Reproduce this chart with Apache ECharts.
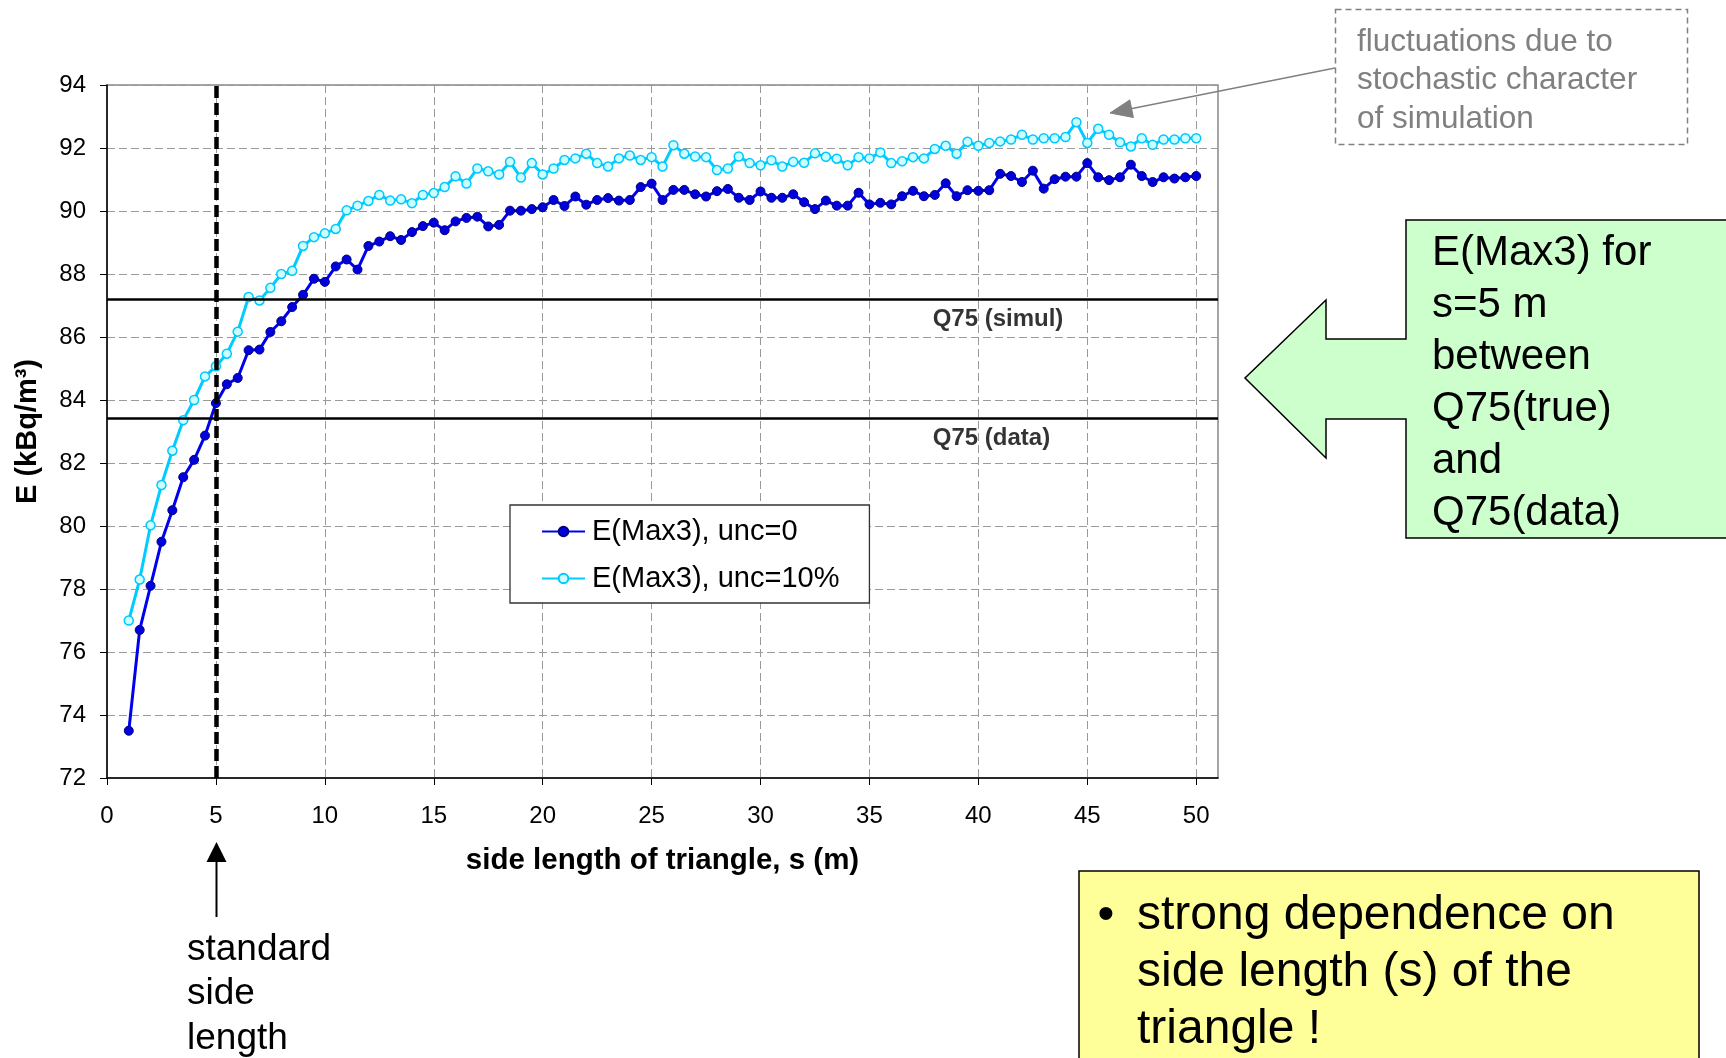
<!DOCTYPE html>
<html>
<head>
<meta charset="utf-8">
<title>E(Max3) vs side length</title>
<script src="https://cdn.jsdelivr.net/npm/echarts@6/dist/echarts.min.js"></script>
<style>
  html, body { margin: 0; padding: 0; background: #fff; }
  #chart { width: 1726px; height: 1058px; }
</style>
</head>
<body>
<div id="chart"></div>
<script>
var sValues = [1, 1.5, 2, 2.5, 3, 3.5, 4, 4.5, 5, 5.5, 6, 6.5, 7, 7.5, 8, 8.5, 9, 9.5, 10, 10.5,
  11, 11.5, 12, 12.5, 13, 13.5, 14, 14.5, 15, 15.5, 16, 16.5, 17, 17.5, 18, 18.5, 19, 19.5, 20, 20.5,
  21, 21.5, 22, 22.5, 23, 23.5, 24, 24.5, 25, 25.5, 26, 26.5, 27, 27.5, 28, 28.5, 29, 29.5, 30, 30.5,
  31, 31.5, 32, 32.5, 33, 33.5, 34, 34.5, 35, 35.5, 36, 36.5, 37, 37.5, 38, 38.5, 39, 39.5, 40, 40.5,
  41, 41.5, 42, 42.5, 43, 43.5, 44, 44.5, 45, 45.5, 46, 46.5, 47, 47.5, 48, 48.5, 49, 49.5, 50]

// E(Max3), unc=0
var eUnc0 = [73.5, 76.7, 78.1, 79.5, 80.5, 81.55, 82.1, 82.87, 83.9, 84.5, 84.7, 85.58, 85.6, 86.16, 86.5, 86.95, 87.34, 87.85, 87.75, 88.24,
  88.46, 88.14, 88.89, 89.03, 89.2, 89.08, 89.33, 89.52, 89.63, 89.39, 89.67, 89.78, 89.82, 89.51, 89.56, 90.01, 90.01, 90.06, 90.12, 90.35,
  90.16, 90.46, 90.2, 90.35, 90.41, 90.33, 90.35, 90.76, 90.87, 90.35, 90.67, 90.67, 90.53, 90.46, 90.63, 90.7, 90.42, 90.35, 90.62, 90.42,
  90.42, 90.53, 90.28, 90.06, 90.33, 90.17, 90.17, 90.58, 90.21, 90.26, 90.21, 90.47, 90.64, 90.47, 90.51, 90.88, 90.47, 90.66, 90.64, 90.66,
  91.18, 91.11, 90.92, 91.28, 90.71, 91.01, 91.09, 91.09, 91.52, 91.07, 90.98, 91.07, 91.47, 91.11, 90.92, 91.07, 91.03, 91.07, 91.11]

// E(Max3), unc=10%
var eUnc10 = [77.0, 78.3, 80.02, 81.3, 82.39, 83.36, 84.0, 84.75, 85.07, 85.47, 86.17, 87.27, 87.16, 87.56, 88.0, 88.1, 88.89, 89.17, 89.29, 89.43,
  90.02, 90.17, 90.32, 90.51, 90.33, 90.37, 90.25, 90.51, 90.57, 90.76, 91.1, 90.87, 91.35, 91.26, 91.16, 91.56, 91.06, 91.52, 91.16, 91.35,
  91.62, 91.67, 91.82, 91.52, 91.41, 91.67, 91.76, 91.62, 91.71, 91.41, 92.09, 91.82, 91.73, 91.71, 91.3, 91.35, 91.73, 91.52, 91.45, 91.61,
  91.41, 91.56, 91.53, 91.83, 91.72, 91.66, 91.45, 91.71, 91.67, 91.86, 91.52, 91.58, 91.71, 91.67, 91.97, 92.07, 91.82, 92.2, 92.07, 92.16,
  92.21, 92.27, 92.42, 92.27, 92.31, 92.31, 92.35, 92.82, 92.16, 92.61, 92.42, 92.18, 92.05, 92.31, 92.1, 92.27, 92.27, 92.31, 92.31]

var xTicks = [0, 5, 10, 15, 20, 25, 30, 35, 40, 45, 50]
var standardS = 5
var q75Simul = 87.21
var q75Data = 83.42
var q75Labels = [[40.9, 87.21, 'Q75 (simul)'], [40.6, 83.42, 'Q75 (data)']]

var FONT = '"Liberation Sans", Arial, sans-serif'

var myChart = echarts.init(document.getElementById('chart'))

function pairs (ys) {
  return sValues.map(function (s, i) {
    return [s, ys[i]]
  })
}

var option = {
  animation: false,
  backgroundColor: '#fff',
  textStyle: { fontFamily: FONT },
  grid: {
    left: 107,
    top: 85,
    right: 508,
    bottom: 280,
    show: true,
    borderColor: '#888',
    borderWidth: 1.5,
    containLabel: false
  },
  legend: {
    orient: 'vertical',
    left: 510,
    top: 505,
    padding: [12, 30, 10, 31],
    itemGap: 18,
    itemWidth: 43,
    itemHeight: 12,
    borderColor: '#333',
    borderWidth: 1.3,
    backgroundColor: '#fff',
    data: ['E(Max3), unc=0', 'E(Max3), unc=10%'],
    textStyle: { fontSize: 29, color: '#000', fontFamily: FONT, padding: [0, 0, 0, 2] }
  },
  xAxis: {
    type: 'value',
    min: 0,
    max: 51,
    interval: 5,
    name: 'side length of triangle, s (m)',
    nameLocation: 'middle',
    nameGap: 68,
    nameTextStyle: { fontSize: 29.5, fontWeight: 'bold', color: '#000', fontFamily: FONT },
    axisLine: { lineStyle: { color: '#000', width: 1.5 } },
    axisTick: { show: true, inside: false, length: 7, customValues: xTicks, lineStyle: { color: '#000' } },
    axisLabel: { fontSize: 24, color: '#000', margin: 26, customValues: xTicks, fontFamily: FONT },
    splitLine: { show: true, lineStyle: { color: '#9a9a9a', width: 1, type: [8, 4] } }
  },
  yAxis: {
    type: 'value',
    min: 72,
    max: 94,
    interval: 2,
    name: 'E (kBq/m³)',
    nameLocation: 'middle',
    nameGap: 65,
    nameTextStyle: { fontSize: 29, fontWeight: 'bold', color: '#000', fontFamily: FONT },
    axisLine: { show: true, lineStyle: { color: '#000', width: 1.5 } },
    axisTick: { show: true, inside: false, length: 7, lineStyle: { color: '#000' } },
    axisLabel: { fontSize: 24, color: '#000', margin: 21, fontFamily: FONT },
    splitLine: { show: true, lineStyle: { color: '#9a9a9a', width: 1, type: [8, 4] } }
  },
  series: [
    {
      name: 'E(Max3), unc=10%',
      type: 'line',
      data: pairs(eUnc10),
      symbol: 'circle',
      symbolSize: 9,
      showAllSymbol: true,
      lineStyle: { color: '#00ccff', width: 3 },
      itemStyle: { color: '#ccffff', borderColor: '#00c8ff', borderWidth: 1.5 },
      z: 3
    },
    {
      name: 'E(Max3), unc=0',
      type: 'line',
      data: pairs(eUnc0),
      symbol: 'circle',
      symbolSize: 9,
      showAllSymbol: true,
      lineStyle: { color: '#0000ee', width: 3 },
      itemStyle: { color: '#0000dd', borderColor: '#000080', borderWidth: 1 },
      z: 4,
      markLine: {
        silent: true,
        symbol: ['none', 'none'],
        label: { show: false },
        data: [
          { xAxis: standardS, lineStyle: { color: '#000', width: 4.5, type: [12, 5] } },
          { yAxis: q75Simul, lineStyle: { color: '#000', width: 2.5, type: 'solid' } },
          { yAxis: q75Data, lineStyle: { color: '#000', width: 2.5, type: 'solid' } }
        ]
      }
    },
    {
      name: 'Q75 labels',
      type: 'scatter',
      data: q75Labels,
      symbolSize: 0,
      silent: true,
      label: {
        show: true,
        position: 'bottom',
        distance: 8,
        formatter: function (p) { return p.value[2] },
        fontSize: 24,
        fontWeight: 'bold',
        color: '#000',
        fontFamily: FONT
      },
      z: 5
    }
  ],
  graphic: [
    // note box, top right
    {
      type: 'rect',
      shape: { x: 1335.5, y: 9.5, width: 352, height: 135 },
      style: { fill: 'none', stroke: '#808080', lineWidth: 1.5, lineDash: [6, 4] }
    },
    {
      type: 'text',
      style: {
        x: 1357, y: 23,
        text: 'fluctuations due to\nstochastic character\nof simulation',
        fill: '#808080', fontSize: 31.5, fontFamily: FONT, lineHeight: 38.5, align: 'left', verticalAlign: 'top'
      }
    },
    {
      type: 'line',
      shape: { x1: 1335, y1: 68, x2: 1131, y2: 108.7 },
      style: { stroke: '#808080', lineWidth: 1.5 }
    },
    {
      type: 'polygon',
      shape: { points: [[1110, 113], [1133.4, 117.5], [1129.8, 99.9]] },
      style: { fill: '#808080', stroke: '#808080' }
    },
    // green callout
    {
      type: 'polygon',
      shape: {
        points: [[1406, 220], [1740, 220], [1740, 538], [1406, 538], [1406, 419], [1326, 419], [1326, 458],
          [1245, 378], [1326, 300], [1326, 339], [1406, 339]]
      },
      style: { fill: '#ccffcc', stroke: '#000', lineWidth: 1.5 }
    },
    {
      type: 'text',
      style: {
        x: 1432, y: 227,
        text: 'E(Max3) for\ns=5 m\nbetween\nQ75(true)\nand\nQ75(data)',
        fill: '#000', fontSize: 42, fontFamily: FONT, lineHeight: 52, align: 'left', verticalAlign: 'top'
      }
    },
    // yellow box
    {
      type: 'rect',
      shape: { x: 1079, y: 871, width: 620, height: 200 },
      style: { fill: '#ffff99', stroke: '#000', lineWidth: 1.5 }
    },
    {
      type: 'text',
      style: {
        x: 1106, y: 887,
        text: '•',
        fill: '#000', fontSize: 48, fontFamily: FONT, lineHeight: 57, align: 'center', verticalAlign: 'top'
      }
    },
    {
      type: 'text',
      style: {
        x: 1137, y: 887,
        text: 'strong dependence on\nside length (s) of the\ntriangle !',
        fill: '#000', fontSize: 48, fontFamily: FONT, lineHeight: 57, align: 'left', verticalAlign: 'top'
      }
    },
    // standard side length arrow
    {
      type: 'line',
      shape: { x1: 216.5, y1: 917, x2: 216.5, y2: 860 },
      style: { stroke: '#000', lineWidth: 2 }
    },
    {
      type: 'polygon',
      shape: { points: [[216.5, 842], [206.5, 862], [226.5, 862]] },
      style: { fill: '#000' }
    },
    {
      type: 'text',
      style: {
        x: 187, y: 927,
        text: 'standard\nside\nlength',
        fill: '#000', fontSize: 37, fontFamily: FONT, lineHeight: 44.6, align: 'left', verticalAlign: 'top'
      }
    }
  ]
}

myChart.setOption(option)
</script>
</body>
</html>
